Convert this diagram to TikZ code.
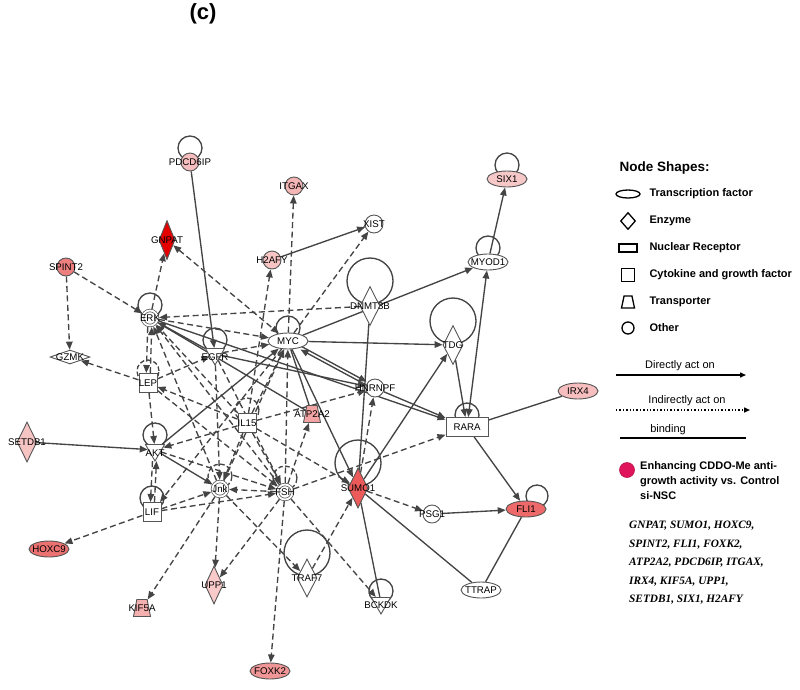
\documentclass[tikz,border=0pt]{standalone}
\usepackage{fontspec}
\setmainfont{Liberation Sans}
\newfontfamily\tnr{Liberation Serif}
\usetikzlibrary{shapes.geometric,arrows.meta}
\pgfdeclarelayer{bg}
\pgfsetlayers{bg,main}
\definecolor{edgecol}{HTML}{444444}
\definecolor{nodeline}{HTML}{555555}
\definecolor{cPDC}{HTML}{F5BDBD}
\definecolor{cITG}{HTML}{F4B5B5}
\definecolor{cH2A}{HTML}{F7C4C4}
\definecolor{cSIX}{HTML}{F7C8C8}
\definecolor{cIRX}{HTML}{F6BEBE}
\definecolor{cSET}{HTML}{F7C4C4}
\definecolor{cUPP}{HTML}{F8CACA}
\definecolor{cKIF}{HTML}{F4AFAF}
\definecolor{cATP}{HTML}{F2A3A3}
\definecolor{cSPI}{HTML}{EE7F7F}
\definecolor{cHOX}{HTML}{EC7272}
\definecolor{cFOX}{HTML}{F19696}
\definecolor{cFLI}{HTML}{EE6A6A}
\definecolor{cSUM}{HTML}{EC5A5A}
\definecolor{cGNP}{HTML}{E50000}
\definecolor{cMag}{HTML}{E0145A}
\begin{document}
\begin{tikzpicture}[x=1pt,y=-1pt,
  >={Triangle[length=8pt,width=6.5pt]},
  every label/.style={font=\fontsize{9.7}{10}\selectfont, inner sep=0pt, text=black},
  nb/.style={draw=nodeline, line width=0.9pt, inner sep=0pt, outer sep=0.5pt},
  oth/.style={nb, circle, minimum size=18pt},
  grp/.style={nb, circle, minimum size=15pt, fill=white, double=white, double distance=1.8pt, line width=0.75pt, outer sep=1.6pt},
  tf/.style={nb, ellipse, minimum width=40pt, minimum height=16pt},
  enz/.style={nb, diamond, minimum width=20pt, minimum height=39pt},
  pep/.style={nb, diamond, minimum width=40pt, minimum height=14pt},
  cyt/.style={nb, rectangle, minimum width=18pt, minimum height=19pt},
  nrec/.style={nb, rectangle, minimum width=42pt, minimum height=19pt},
  trn/.style={nb, trapezium, inner sep=1pt, trapezium stretches=true, trapezium left angle=72, trapezium right angle=72, minimum width=17pt, minimum height=17pt},
  kin/.style={nb, regular polygon, regular polygon sides=3, shape border rotate=180, minimum size=22pt},
  ed/.style={draw=edgecol, line width=1.35pt},
  dir/.style={ed, ->},
  dirb/.style={ed, <->},
  bnd/.style={ed},
  ind/.style={ed, dash pattern=on 6pt off 3.5pt, ->},
  indb/.style={ed, dash pattern=on 6pt off 3.5pt, <->},
  lp/.style={draw=edgecol, line width=1.35pt},
  lpd/.style={draw=edgecol, line width=1.35pt, dash pattern=on 4.5pt off 2.5pt},
  lgs/.style={draw=black, line width=1.3pt, inner sep=0pt},
  lgt/.style={font=\bfseries\fontsize{11}{13}\selectfont, anchor=west},
  lgr/.style={font=\fontsize{11}{13}\selectfont}
]
\useasboundingbox (0,0) rectangle (800,689);

\node[font=\bfseries\fontsize{22}{24}\selectfont] (title) at (203,14) {(c)};

% ---------- nodes ----------
\node[oth, fill=cPDC, label=center:PDCD6IP] (pdcd) at (190,162) {};
\node[oth, fill=cITG, label=center:ITGAX] (itgax) at (294,186) {};
\node[enz, fill=cGNP, minimum width=16pt, label=center:GNPAT] (gnpat) at (167,240) {};
\node[oth, fill=cSPI, label=center:SPINT2] (spint) at (66,267) {};
\node[oth, fill=cH2A, label=center:H2AFY] (h2afy) at (272,260) {};
\node[oth, fill=white, label=center:XIST] (xist) at (374,224) {};
\node[tf, fill=cSIX, label=center:SIX1] (six) at (507,179) {};
\node[tf, fill=white, label=center:MYOD1] (myod) at (488,262) {};
\node[enz, fill=white, label=center:DNMT3B] (dnmt) at (370,306) {};
\node[grp, label=center:ERK] (erk) at (150,318) {};
\node[pep, fill=white, label=center:GZMK] (gzmk) at (70,357) {};
\node[kin, fill=white, label={[yshift=-3pt]center:EGFR}] (egfr) at (215,354) {};
\node[tf, fill=white, label=center:MYC] (myc) at (288,341) {};
\node[enz, fill=white, label=center:TDG] (tdg) at (453,345) {};
\node[cyt, fill=white, label=center:LEP] (lep) at (148,383) {};
\node[oth, fill=white, label=center:HNRNPF] (hnrnpf) at (375,388) {};
\node[tf, fill=cIRX, label=center:IRX4] (irx) at (578,391) {};
\node[trn, fill=cATP, label=center:ATP2A2] (atp) at (312,414) {};
\node[cyt, fill=white, label=center:IL15] (il) at (247,423) {};
\node[nrec, fill=white, label=center:RARA] (rara) at (467,427) {};
\node[enz, fill=cSET, minimum height=40pt, label=center:SETDB1] (setdb) at (27,442) {};
\node[kin, fill=white, label={[yshift=-3pt]center:AKT}] (akt) at (155,450) {};
\node[enz, fill=cSUM, minimum height=40pt, label=center:SUMO1] (sumo) at (358,488) {};
\node[grp, label=center:Jnk] (jnk) at (220,489) {};
\node[grp, label=center:FSH] (fsh) at (285,492) {};
\node[cyt, fill=white, label=center:LIF] (lif) at (152,512) {};
\node[oth, fill=white, label=center:PSG1] (psg) at (432,514) {};
\node[tf, fill=cFLI, label=center:FLI1] (fli) at (526,509) {};
\node[tf, fill=cHOX, label=center:HOXC9] (hoxc) at (49,549) {};
\node[enz, fill=white, minimum height=38pt, label=center:TRAF7] (traf) at (307,578) {};
\node[enz, fill=cUPP, minimum width=18pt, minimum height=38pt, label=center:UPP1] (upp) at (214,585) {};
\node[tf, fill=white, label=center:TTRAP] (ttrap) at (481,590) {};
\node[kin, fill=white, label={[yshift=-2pt]center:BCKDK}] (bckdk) at (381,603) {};
\node[trn, fill=cKIF, label=center:KIF5A] (kif) at (142,608) {};
\node[tf, fill=cFOX, label=center:FOXK2] (foxk) at (270,671) {};

% ---------- edges and self loops ----------
\begin{pgfonlayer}{bg}
% self loops
\draw[lp] ([yshift=14pt]pdcd.center) circle[radius=12pt];
\draw[lp] ([yshift=14pt]six.center) circle[radius=12pt];
\draw[lp] ([yshift=14pt]myod.center) circle[radius=12pt];
\draw[lp] ([yshift=13pt]erk.center) circle[radius=12pt];
\draw[lp] ([yshift=14pt]egfr.center) circle[radius=12pt];
\draw[lp] ([yshift=13pt]myc.center) circle[radius=12pt];
\draw[lp] ([yshift=25pt]dnmt.center) circle[radius=23pt];
\draw[lp] ([yshift=24pt]tdg.center) circle[radius=23pt];
\draw[lpd] ([yshift=12pt]lep.center) circle[radius=11pt];
\draw[lpd] ([yshift=13pt]il.center) circle[radius=12pt];
\draw[lp] ([yshift=12pt]rara.center) circle[radius=12pt];
\draw[lp] ([yshift=15pt]akt.center) circle[radius=12pt];
\draw[lp] ([yshift=25pt]sumo.center) circle[radius=23pt];
\draw[lpd] ([yshift=13pt]jnk.center) circle[radius=12pt];
\draw[lpd] ([yshift=14pt]fsh.center) circle[radius=12pt];
\draw[lp] ([yshift=14pt]lif.center) circle[radius=12pt];
\draw[lp] ([xshift=11pt,yshift=13pt]fli.center) circle[radius=11pt];
\draw[lp] ([yshift=25pt]traf.center) circle[radius=23pt];
\draw[lp] ([yshift=12pt]bckdk.center) circle[radius=12pt];

% direct
\draw[dir] (pdcd) -- (egfr);
\draw[dir] (h2afy) -- (xist);
\draw[dir] (myod) -- (six);
\draw[dir] (myc) -- (myod);
\draw[dir] (tdg) -- (rara);
\draw[dir] (myc) -- (tdg);
\draw[dir] (sumo) -- (tdg);
\draw[dir] (hnrnpf) -- (rara);
\draw[dir] (rara) -- (fli);
\draw[dir] (psg) -- (fli);
\draw[dir] (setdb) -- (akt);
\draw[dir] (myc) -- (sumo);
\draw[dir] (egfr) -- (hnrnpf);
\draw[dir] (erk) -- (rara);
\draw[dir] (akt) -- (jnk);
\draw[dir] (akt) -- (myc);
\draw[dir] (egfr) -- (erk);
\draw[dir, transform canvas={yshift=1.8pt}] (myc) -- (hnrnpf);
\draw[dir, transform canvas={yshift=-1.8pt}] (hnrnpf) -- (myc);
\draw[dirb] (rara) -- (myod);
% binding
\draw[bnd] (dnmt) -- (sumo);
\draw[bnd] (rara) -- (irx);
\draw[bnd] (sumo) -- (ttrap);
\draw[bnd] (fli) -- (ttrap);
\draw[bnd] (sumo) -- (bckdk);
\draw[bnd] (myc) -- (atp);
\draw[bnd] (erk) -- (atp);
% indirect
\draw[ind] (myc) -- (itgax);
\draw[ind] (il) -- (h2afy);
\draw[ind] (myc) -- (xist);
\draw[ind] (erk) -- (gnpat);
\draw[indb] (gnpat) -- (myc);
\draw[ind] (spint) -- (erk);
\draw[ind] (spint) -- (gzmk);
\draw[ind] (lep) -- (gzmk);
\draw[ind] (dnmt) -- (erk);
\draw[ind] (sumo) -- (hnrnpf);
\draw[ind] (fsh) -- (rara);
\draw[ind] (sumo) -- (psg);
\draw[ind] (fsh) -- (bckdk);
\draw[ind] (traf) -- (sumo);
\draw[ind] (jnk) -- (traf);
\draw[ind] (fsh) -- (foxk);
\draw[ind] (fsh) -- (upp);
\draw[ind] (jnk) -- (upp);
\draw[ind] (jnk) -- (kif);
\draw[ind] (lif) -- (hoxc);
\draw[ind] (fsh) -- (atp);
\draw[ind] (il) -- (hnrnpf);
\draw[ind] (il) -- (sumo);
\draw[ind, transform canvas={xshift=-2pt}] (erk) -- (lep);
\draw[ind, transform canvas={xshift=2pt}] (lep) -- (erk);
\draw[ind] (lep) -- (akt);
\draw[ind, transform canvas={xshift=-2pt}] (akt) -- (lif);
\draw[ind, transform canvas={xshift=2pt}] (lif) -- (akt);
\draw[ind] (egfr) -- (myc);
\draw[ind] (erk) -- (myc);
\draw[ind] (lep) -- (egfr);
\draw[ind] (il) -- (lep);
\draw[ind] (il) -- (akt);
\draw[ind] (myc) -- (lif);
\draw[ind] (akt) -- (fsh);
\draw[ind] (lif) -- (jnk);
\draw[ind] (lif) -- (fsh);
\draw[ind] (fsh) -- (jnk);
\draw[ind] (jnk) -- (erk);
\draw[ind] (fsh) -- (erk);
\draw[ind] (il) -- (erk);
\draw[ind] (jnk) -- (myc);
\draw[ind] (fsh) -- (myc);
\draw[ind] (il) -- (myc);
\draw[ind] (egfr) -- (jnk);
\draw[ind] (egfr) -- (fsh);
\draw[ind] (lep) -- (fsh);
\draw[ind] (il) -- (fsh);
\draw[ind] (il) -- (jnk);
\end{pgfonlayer}

% ---------- legend ----------
\node[font=\bfseries\fontsize{13.5}{15}\selectfont, anchor=west] (lgtitle) at (616,168) {Node Shapes:};
\node[lgs, ellipse, minimum width=24pt, minimum height=8pt] (ls1) at (628,194) {};
\node[lgt] (lt1) at (646,194) {Transcription factor};
\node[lgs, diamond, minimum width=15pt, minimum height=17pt] (ls2) at (628,221) {};
\node[lgt] (lt2) at (646,221) {Enzyme};
\node[lgs, rectangle, minimum width=18pt, minimum height=8pt] (ls3) at (628,248) {};
\node[lgt] (lt3) at (646,248) {Nuclear Receptor};
\node[lgs, rectangle, minimum width=13pt, minimum height=13pt] (ls4) at (628,275) {};
\node[lgt] (lt4) at (646,275) {Cytokine and growth factor};
\node[lgs, trapezium, inner sep=1pt, trapezium stretches=true, trapezium left angle=72, trapezium right angle=72, minimum width=13pt, minimum height=12pt] (ls5) at (628,302) {};
\node[lgt] (lt5) at (646,302) {Transporter};
\node[lgs, circle, minimum size=12pt] (ls6) at (628,328) {};
\node[lgt] (lt6) at (646,328) {Other};

\node[lgr] (ld1) at (680,366) {Directly act on};
\coordinate (la1) at (616,375);
\coordinate (la2) at (746,375);
\draw[black, line width=1.4pt, -{Triangle[length=6pt,width=5pt]}] (la1) -- (la2);
\node[lgr] (ld2) at (687,401) {Indirectly act on};
\coordinate (lb1) at (616,410);
\coordinate (lb2) at (750,410);
\draw[black, line width=1.4pt, dotted, -{Triangle[length=6pt,width=5pt]}] (lb1) -- (lb2);
\node[lgr] (ld3) at (668,430) {binding};
\coordinate (lc1) at (620,438);
\coordinate (lc2) at (746,438);
\draw[black, line width=1.4pt] (lc1) -- (lc2);

\node[circle, fill=cMag, draw=cMag!80!black, line width=0.6pt, minimum size=15pt, inner sep=0pt] (lmag) at (627,470) {};
\node[font=\bfseries\fontsize{11}{15}\selectfont, anchor=north west, align=left, inner sep=0pt] (lenh) at (640,461)
  {Enhancing CDDO-Me anti-\\growth activity vs. Control\\si-NSC};
\node[font=\tnr\bfseries\itshape\fontsize{11.3}{18.5}\selectfont, anchor=north west, align=left, inner sep=0pt] (llist) at (629,521)
  {GNPAT, SUMO1, HOXC9,\\SPINT2, FLI1, FOXK2,\\ATP2A2, PDCD6IP, ITGAX,\\IRX4, KIF5A, UPP1,\\SETDB1, SIX1, H2AFY};
\end{tikzpicture}
\end{document}
